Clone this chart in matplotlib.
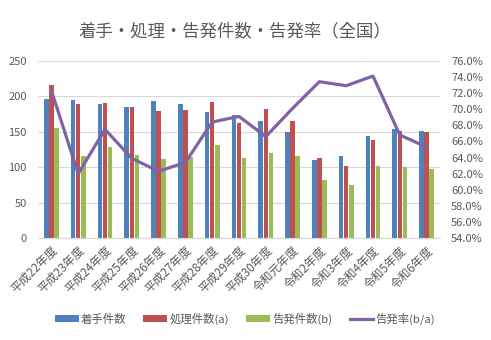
import numpy as np
import matplotlib
matplotlib.use('Agg')
import matplotlib.pyplot as plt
from matplotlib.ticker import FuncFormatter

plt.rcParams['font.family'] = ['Noto Sans CJK JP', 'DejaVu Sans']

years = ['平成22年度', '平成23年度', '平成24年度', '平成25年度', '平成26年度',
         '平成27年度', '平成28年度', '平成29年度', '平成30年度', '令和元年度',
         '令和2年度', '令和3年度', '令和4年度', '令和5年度', '令和6年度']
chakushu = [196, 195, 189, 185, 193, 189, 178, 173, 165, 149, 110, 116, 144, 154, 151]
shori = [216, 189, 191, 185, 179, 181, 192, 162, 182, 165, 113, 102, 138, 151, 150]
kokuhatsu = [155, 116, 128, 117, 112, 114, 131, 113, 120, 116, 82, 75, 102, 100, 97]
rate = [72.3, 62.0, 67.5, 63.9, 62.3, 63.4, 68.4, 69.1, 66.6, 70.1, 73.4, 72.9, 74.1, 66.8, 65.3]

gray = '#595959'
fig = plt.figure(figsize=(4.91, 3.40), dpi=100)
ax = fig.add_axes([38/491, 1-238.3/340, (440-38)/491, (238.3-60.7)/340])
x = np.arange(len(years))
w = 0.17
ax.bar(x - w - 0.02, chakushu, w, color='#4F81BD', label='着手件数', zorder=2)
ax.bar(x, shori, w, color='#C0504D', label='処理件数(a)', zorder=2)
ax.bar(x + w + 0.02, kokuhatsu, w, color='#9BBB59', label='告発件数(b)', zorder=2)
ax.set_ylim(0, 250)
ax.set_yticks(range(0, 251, 50))
ax.set_xlim(-0.5, len(years) - 0.5)
ax.set_xticks(x)
ax.set_xticklabels(years, rotation=45, ha='right', rotation_mode='anchor', fontsize=8.5)
ax.grid(axis='y', color='#D9D9D9', linewidth=0.8, zorder=0)
ax.set_axisbelow(True)
for s in ['top', 'left', 'right']:
    ax.spines[s].set_visible(False)
ax.spines['bottom'].set_color('#D9D9D9')
ax.tick_params(axis='y', length=0, labelsize=8, colors=gray, pad=8)
ax.tick_params(axis='x', length=0, colors=gray, pad=4)

ax2 = ax.twinx()
ax2.plot(x, rate, color='#8064A2', linewidth=2.3, label='告発率(b/a)', zorder=3)
ax2.set_ylim(54, 76)
ax2.set_yticks(np.arange(54, 76.1, 2))
ax2.yaxis.set_major_formatter(FuncFormatter(lambda v, p: f'{v:.1f}%'))
for s in ax2.spines.values():
    s.set_visible(False)
ax2.tick_params(length=0, labelsize=8, colors=gray, pad=8)

fig.suptitle('着手・処理・告発件数・告発率（全国）', x=235/491, y=1-31/340,
             va='center', fontsize=12.5, color=gray)

h1, l1 = ax.get_legend_handles_labels()
h2, l2 = ax2.get_legend_handles_labels()
fig.legend(h1 + h2, l1 + l2, loc='center', bbox_to_anchor=(245/491, 1-319/340),
           ncol=4, frameon=False, fontsize=8.2, labelcolor=gray,
           handlelength=2.1, handleheight=0.6, handletextpad=0.2, columnspacing=1.5)

fig.savefig('out.png', dpi=100)
